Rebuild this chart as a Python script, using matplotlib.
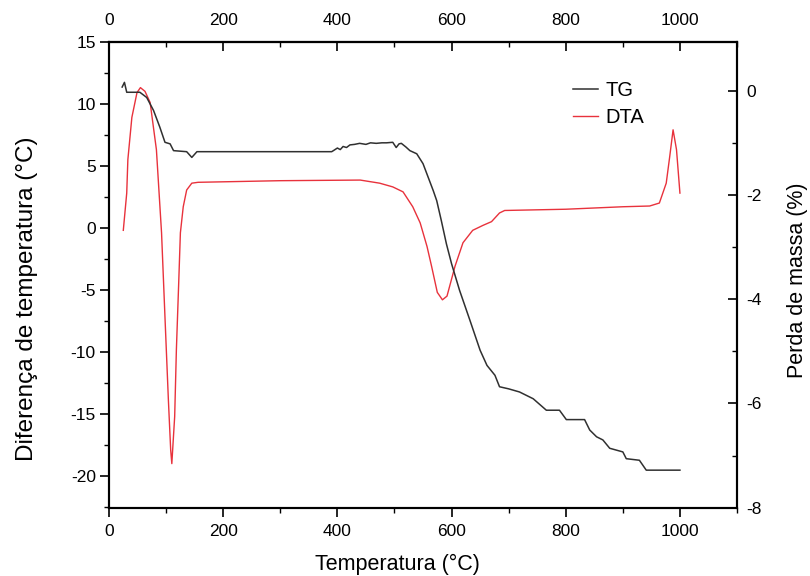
#!/usr/bin/env python3

import matplotlib.pyplot as plt
from matplotlib.lines import Line2D
from matplotlib.ticker import MultipleLocator

plt.rcParams['font.family'] = ['Liberation Sans', 'DejaVu Sans']
plt.rcParams['axes.unicode_minus'] = False

# DTA curve (left axis)
temp_dta = [25, 31, 33, 40, 49, 55, 63, 72, 83, 92, 98, 104, 108, 110,
            115, 118, 122, 125, 130, 136, 145, 156, 300, 440, 474, 497,
            515, 532, 545, 557, 565, 575, 584, 592, 606, 620, 637, 655,
            670, 684, 693, 800, 900, 947, 964, 976, 982, 988, 994, 1000]
dta = [-0.2, 2.8, 5.5, 8.9, 10.9, 11.3, 11.0, 10.1, 6.3, -0.4, -7.2, -13.9,
       -17.9, -19.0, -15.2, -9.8, -4.5, -0.4, 1.7, 3.05, 3.6, 3.67, 3.8,
       3.85, 3.6, 3.3, 2.9, 1.7, 0.4, -1.5, -3.1, -5.2, -5.8, -5.5, -3.1,
       -1.2, -0.2, 0.2, 0.5, 1.2, 1.4, 1.5, 1.7, 1.76, 2.0, 3.6, 5.7, 7.9,
       6.3, 2.8]

# TG curve (right axis)
temp_tg = [23, 27, 31, 54, 66, 78, 89, 98, 107, 113, 136, 145, 154, 390,
           393, 400, 405, 410, 416, 422, 430, 439, 450, 458, 468, 478, 486,
           497, 503, 508, 512, 520, 527, 539, 550, 559, 568, 574, 582, 591,
           600, 614, 632, 650, 662, 676, 684, 700, 719, 743, 766, 789, 801,
           833, 842, 854, 865, 877, 900, 906, 929, 941, 1000]
tg = [0.07, 0.16, -0.03, -0.03, -0.13, -0.38, -0.70, -0.99, -1.02, -1.15,
      -1.17, -1.28, -1.17, -1.17, -1.15, -1.10, -1.13, -1.07, -1.09, -1.04,
      -1.03, -1.01, -1.03, -1.00, -1.01, -1.00, -1.00, -0.99, -1.09, -1.02,
      -1.01, -1.08, -1.15, -1.21, -1.40, -1.66, -1.92, -2.11, -2.49, -2.94,
      -3.32, -3.83, -4.40, -4.98, -5.27, -5.46, -5.68, -5.72, -5.78, -5.91,
      -6.13, -6.13, -6.31, -6.31, -6.51, -6.64, -6.70, -6.86, -6.93, -7.06,
      -7.09, -7.28, -7.28]

fig = plt.figure(figsize=(8.1, 5.76), dpi=100)
ax1 = fig.add_axes([0.1346, 0.1186, 0.7753, 0.809])
ax2 = ax1.twinx()

ax1.plot(temp_dta, dta, color='#e8323c', lw=1.0)
ax2.plot(temp_tg, tg, color='#303030', lw=1.1)

ax1.set_xlim(0, 1100)
ax1.set_ylim(-22.55, 15)
ax2.set_ylim(-8, 0.94)

ax1.xaxis.set_minor_locator(MultipleLocator(100))
ax1.yaxis.set_major_locator(MultipleLocator(5))
ax1.yaxis.set_minor_locator(MultipleLocator(2.5))
ax2.yaxis.set_major_locator(MultipleLocator(2))
ax2.yaxis.set_minor_locator(MultipleLocator(1))
ax1.set_xticks([0, 200, 400, 600, 800, 1000])

ax1.tick_params(axis='x', which='major', direction='out', length=6.5,
                width=1.2, labelsize=12.5, pad=5)
ax1.tick_params(axis='y', which='major', direction='out', length=6.5,
                width=1.2, labelsize=12.5, pad=3)
ax1.tick_params(axis='both', which='minor', direction='out', length=3.5,
                width=1.0)
ax2.tick_params(axis='y', which='major', direction='in', length=6.5,
                width=1.2, labelsize=12.5, pad=7)
ax2.tick_params(axis='y', which='minor', direction='in', length=3.5,
                width=1.0)

# top axis with inward ticks
top = ax1.secondary_xaxis('top')
top.set_xticks([0, 200, 400, 600, 800, 1000])
top.xaxis.set_minor_locator(MultipleLocator(100))
top.tick_params(which='major', direction='in', length=6.5, width=1.2,
                labelsize=12.5, pad=10)
top.tick_params(which='minor', direction='in', length=3.5, width=1.0)

for ax in (ax1, ax2):
    for s in ax.spines.values():
        s.set_linewidth(1.5)
top.spines['top'].set_linewidth(1.5)

ax1.set_xlabel('Temperatura (°C)', fontsize=15.5)
ax1.xaxis.set_label_coords(0.459, -0.10)
ax1.set_ylabel('Diferença de temperatura (°C)', fontsize=17.5)
ax1.yaxis.set_label_coords(-0.113, 0.448)
ax2.set_ylabel('Perda de massa (%)', fontsize=15.5, rotation=90)
ax2.yaxis.set_label_coords(1.08, 0.489)

handles = [Line2D([], [], color='#303030', lw=1.1),
           Line2D([], [], color='#e8323c', lw=1.0)]
fig.legend(handles, ['TG', 'DTA'], loc='upper left',
           bbox_to_anchor=(555 / 810, 1 - 63 / 576), frameon=False,
           fontsize=14.5, handlelength=1.25, handletextpad=0.35,
           labelspacing=0.4)

fig.savefig('out.png', dpi=100)
